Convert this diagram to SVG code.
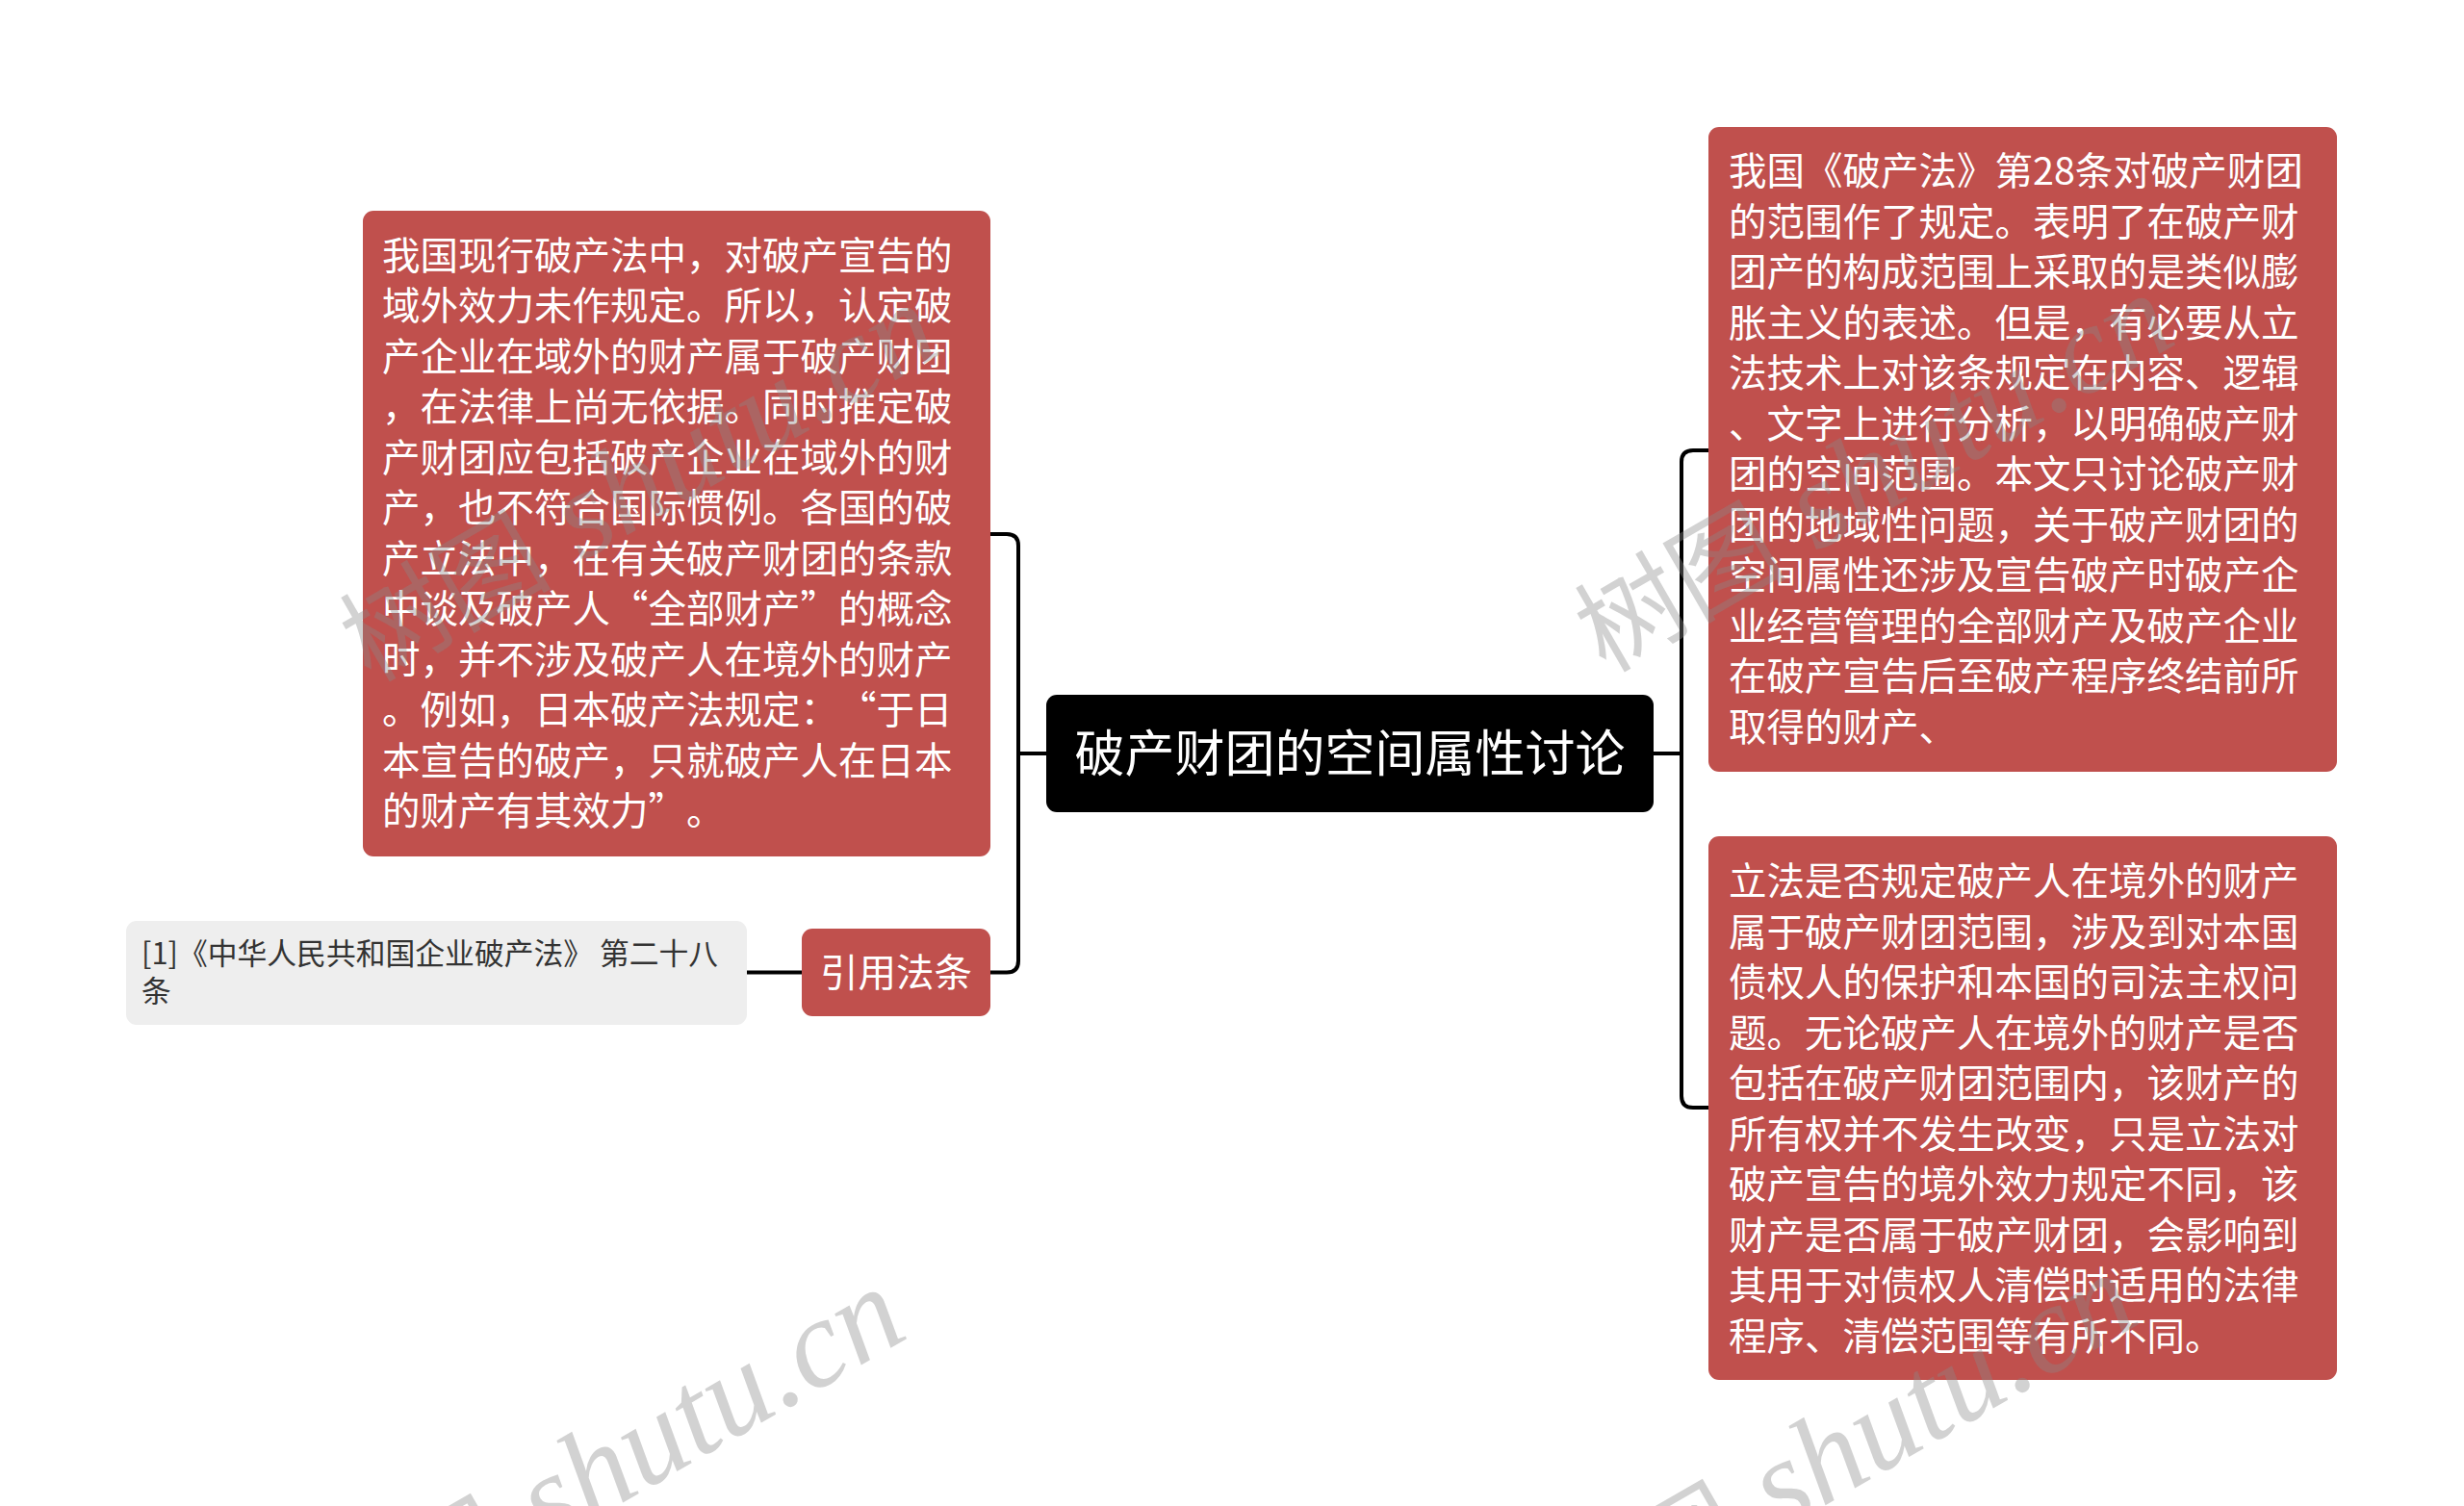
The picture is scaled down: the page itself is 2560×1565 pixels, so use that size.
<svg xmlns="http://www.w3.org/2000/svg" width="2560" height="1565" viewBox="0 0 2560 1565">
<style>
.bg{fill:#ffffff}
.topic{fill:#c0504d}
.root{fill:#000000}
.cite{fill:#eeeeee}
.t{font-family:"Noto Sans CJK SC","Noto Sans",sans-serif;fill:#ffffff;font-size:39.5px;text-spacing-trim:space-all}
.rt{font-family:"Noto Sans CJK SC","Noto Sans",sans-serif;fill:#ffffff;font-size:52px}
.ct{font-family:"Noto Sans CJK SC","Noto Sans",sans-serif;fill:#333333;font-size:30.8px}
.conn{fill:none;stroke:#000000;stroke-width:4;stroke-linecap:round;stroke-linejoin:round}
.wm{fill:#888888;fill-opacity:0.38}
.wmc{font-family:"Noto Sans CJK SC",sans-serif;font-size:110px}
.wml{font-family:"Liberation Serif",serif;font-style:italic;font-size:130px}
</style>
<rect class="bg" x="0" y="0" width="2560" height="1565"/>

<g id="connectors">
  <path class="conn" d="M1087,783 H1058"/>
  <path class="conn" d="M1029,555 H1046 Q1058,555 1058,567 V998.5 Q1058,1010.5 1046,1010.5 H1029"/>
  <path class="conn" d="M1718,783 H1747"/>
  <path class="conn" d="M1775,468 H1759 Q1747,468 1747,480 V1139 Q1747,1151 1759,1151 H1775"/>
  <path class="conn" d="M776,1010.5 H833"/>
</g>

<g id="node-root">
  <rect class="root" x="1087" y="722" width="631" height="122" rx="11"/>
  <text class="rt" x="1402.5" y="802" text-anchor="middle">破产财团的空间属性讨论</text>
</g>

<g id="node-left-text">
  <rect class="topic" x="377" y="219" width="652" height="671" rx="11"/>
  <text class="t">
    <tspan x="397" y="279.5">我国现行破产法中，对破产宣告的</tspan>
    <tspan x="397" y="332">域外效力未作规定。所以，认定破</tspan>
    <tspan x="397" y="384.5">产企业在域外的财产属于破产财团</tspan>
    <tspan x="397" y="437">，在法律上尚无依据。同时推定破</tspan>
    <tspan x="397" y="489.5">产财团应包括破产企业在域外的财</tspan>
    <tspan x="397" y="542">产，也不符合国际惯例。各国的破</tspan>
    <tspan x="397" y="594.5">产立法中，在有关破产财团的条款</tspan>
    <tspan x="397" y="647">中谈及破产人“全部财产”的概念</tspan>
    <tspan x="397" y="699.5">时，并不涉及破产人在境外的财产</tspan>
    <tspan x="397" y="752">。例如，日本破产法规定：“于日</tspan>
    <tspan x="397" y="804.5">本宣告的破产，只就破产人在日本</tspan>
    <tspan x="397" y="857">的财产有其效力”。</tspan>
  </text>
</g>

<g id="node-citation-label">
  <rect class="topic" x="833" y="965" width="196" height="91" rx="11"/>
  <text class="t" x="931" y="1025" text-anchor="middle">引用法条</text>
</g>

<g id="node-citation">
  <rect class="cite" x="131" y="957" width="645" height="108" rx="11"/>
  <text class="ct">
    <tspan x="147" y="1002">[1]《中华人民共和国企业破产法》 第二十八</tspan>
    <tspan x="147" y="1041">条</tspan>
  </text>
</g>

<g id="node-right-top">
  <rect class="topic" x="1775" y="132" width="653" height="670" rx="11"/>
  <text class="t">
    <tspan x="1796" y="192">我国《破产法》第28条对破产财团</tspan>
    <tspan x="1796" y="244.5">的范围作了规定。表明了在破产财</tspan>
    <tspan x="1796" y="297">团产的构成范围上采取的是类似膨</tspan>
    <tspan x="1796" y="349.5">胀主义的表述。但是，有必要从立</tspan>
    <tspan x="1796" y="402">法技术上对该条规定在内容、逻辑</tspan>
    <tspan x="1796" y="454.5">、文字上进行分析，以明确破产财</tspan>
    <tspan x="1796" y="507">团的空间范围。本文只讨论破产财</tspan>
    <tspan x="1796" y="559.5">团的地域性问题，关于破产财团的</tspan>
    <tspan x="1796" y="612">空间属性还涉及宣告破产时破产企</tspan>
    <tspan x="1796" y="664.5">业经营管理的全部财产及破产企业</tspan>
    <tspan x="1796" y="717">在破产宣告后至破产程序终结前所</tspan>
    <tspan x="1796" y="769.5">取得的财产、</tspan>
  </text>
</g>

<g id="node-right-bottom">
  <rect class="topic" x="1775" y="869" width="653" height="565" rx="11"/>
  <text class="t">
    <tspan x="1796" y="930">立法是否规定破产人在境外的财产</tspan>
    <tspan x="1796" y="982.5">属于破产财团范围，涉及到对本国</tspan>
    <tspan x="1796" y="1035">债权人的保护和本国的司法主权问</tspan>
    <tspan x="1796" y="1087.5">题。无论破产人在境外的财产是否</tspan>
    <tspan x="1796" y="1140">包括在破产财团范围内，该财产的</tspan>
    <tspan x="1796" y="1192.5">所有权并不发生改变，只是立法对</tspan>
    <tspan x="1796" y="1245">破产宣告的境外效力规定不同，该</tspan>
    <tspan x="1796" y="1297.5">财产是否属于破产财团，会影响到</tspan>
    <tspan x="1796" y="1350">其用于对债权人清偿时适用的法律</tspan>
    <tspan x="1796" y="1402.5">程序、清偿范围等有所不同。</tspan>
  </text>
</g>

<g id="watermarks" class="wm">
  <text transform="translate(385,710) rotate(-30)"><tspan class="wmc">树图</tspan><tspan class="wml"> shutu.cn</tspan></text>
  <text transform="translate(350,1733) rotate(-30)"><tspan class="wmc">树图</tspan><tspan class="wml"> shutu.cn</tspan></text>
  <text transform="translate(1668,700) rotate(-30)"><tspan class="wmc">树图</tspan><tspan class="wml"> shutu.cn</tspan></text>
  <text transform="translate(1630,1718) rotate(-30)"><tspan class="wmc">树图</tspan><tspan class="wml"> shutu.cn</tspan></text>
</g>
</svg>
